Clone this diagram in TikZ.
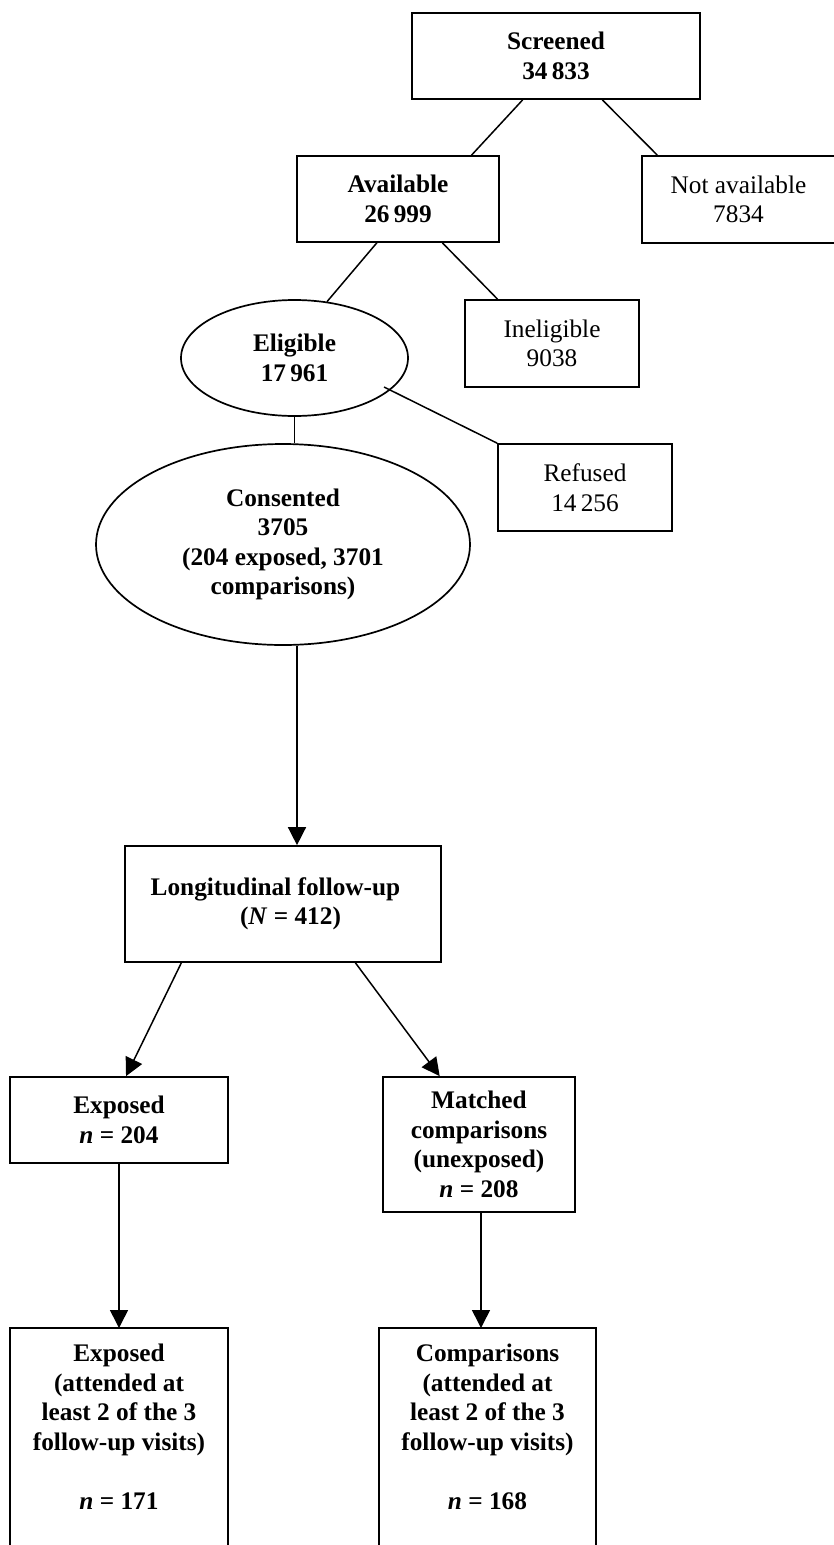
\documentclass[tikz,border=0pt]{standalone}
\usepackage{fontspec}
\setmainfont{Liberation Serif}
\usetikzlibrary{shapes.geometric,arrows.meta,calc}
\begin{document}
\begin{tikzpicture}[x=1pt,y=-1pt,
  txt/.style={font=\fontsize{25.3}{29.5}\selectfont, align=center, inner sep=0pt},
  btxt/.style={font=\fontsize{25.3}{29.5}\selectfont\bfseries, align=center, inner sep=0pt},
  bbox/.style={btxt, draw, line width=1.7pt, rectangle},
  rbox/.style={txt, draw, line width=1.7pt, rectangle},
  oval/.style={btxt, draw, line width=1.7pt, ellipse},
  boxline/.style={line width=1.7pt},
  link/.style={line width=1.5pt},
  arr/.style={line width=1.5pt, -{Triangle[length=18pt,width=18pt]}}
]
\useasboundingbox (0,0) rectangle (834,1545);

\node[bbox, minimum width=288pt, minimum height=86pt] (scr) at (556,56) {Screened\\34\,833};
\node[bbox, minimum width=202pt, minimum height=86pt] (avail) at (398,199) {Available\\26\,999};
\node[rbox, minimum width=193pt, minimum height=87pt] (notav) at (738.5,199.5) {Not available\\7834};
\node[oval, minimum width=227pt, minimum height=116pt] (elig) at (294.5,358) {Eligible\\17\,961};
\node[rbox, minimum width=174pt, minimum height=87pt] (inelig) at (552,343.5) {Ineligible\\9038};
\node[rbox, minimum width=174pt, minimum height=87pt] (refused) at (585,487.5) {Refused\\14\,256};
\node[oval, minimum width=374pt, minimum height=201pt] (cons) at (283,544.5) {Consented\\3705\\(204 exposed, 3701\\comparisons)};
\node[bbox, minimum width=316pt, minimum height=116pt] (long) at (283,904) {Longitudinal follow-up\hspace{15pt}\mbox{}\\\hspace*{15pt}(\textit{N} = 412)};
\node[bbox, minimum width=218pt, minimum height=86pt] (exp) at (119,1120) {Exposed\\\textit{n} = 204};
\node[bbox, minimum width=192pt, minimum height=135pt] (match) at (479,1144.5) {Matched\\comparisons\\(unexposed)\\\textit{n} = 208};
\node[btxt, minimum width=218pt, minimum height=197pt, anchor=north] (exp2) at (119,1328) {Exposed\\(attended at\\least 2 of the 3\\follow-up visits)\\[29.5pt]\textit{n} = 171};
\node[btxt, minimum width=217pt, minimum height=197pt, anchor=north] (comp2) at (487.5,1328) {Comparisons\\(attended at\\least 2 of the 3\\follow-up visits)\\[29.5pt]\textit{n} = 168};

\draw[boxline] ($(exp2.south west)+(0,40)$) -- (exp2.north west) -- (exp2.north east) -- ($(exp2.south east)+(0,40)$);
\draw[boxline] ($(comp2.south west)+(0,40)$) -- (comp2.north west) -- (comp2.north east) -- ($(comp2.south east)+(0,40)$);

\draw[link] ($(scr.south west)!0.385!(scr.south east)$) -- ($(avail.north west)!0.861!(avail.north east)$);
\draw[link] ($(scr.south west)!0.66!(scr.south east)$) -- ($(notav.north west)!0.083!(notav.north east)$);
\draw[link] ($(avail.south west)!0.396!(avail.south east)$) -- (elig.60);
\draw[link] ($(avail.south west)!0.718!(avail.south east)$) -- ($(inelig.north west)!0.19!(inelig.north east)$);
\draw[link] ($(elig.center)+(89.5,29)$) -- (refused.north west);
\draw[link] (elig.south) -- (elig.south |- cons.north);

\coordinate (cdown) at ($(cons.south)+(14,0)$);
\draw[arr] (cdown) -- (cdown |- long.north);
\draw[arr] ($(long.south west)!0.18!(long.south east)$) -- ($(exp.north west)!0.532!(exp.north east)$);
\draw[arr] ($(long.south west)!0.728!(long.south east)$) -- ($(match.north west)!0.297!(match.north east)$);
\draw[arr] (exp.south) -- (exp2.north);
\coordinate (mdown) at ($(match.south)+(2,0)$);
\draw[arr] (mdown) -- (mdown |- comp2.north);
\end{tikzpicture}
\end{document}
